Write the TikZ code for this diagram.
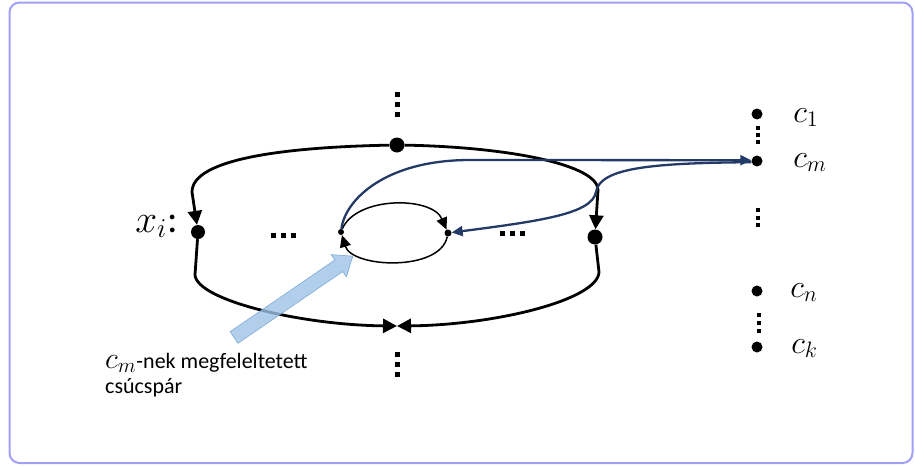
\documentclass[tikz,border=0pt]{standalone}
\usepackage{graphicx}
\usepackage{fontspec}
\setmainfont{Carlito}
\usetikzlibrary{arrows.meta}
\definecolor{framecol}{RGB}{160,160,248}
\definecolor{navy}{RGB}{36,58,102}
\definecolor{hintfill}{RGB}{157,195,230}
\definecolor{hintedge}{RGB}{130,170,215}
\begin{document}
\begin{tikzpicture}[x=1pt,y=-1pt,
  dot/.style={circle,fill=black,inner sep=0pt,minimum size=#1},
  outerline/.style={line width=2.8pt,-{Triangle[length=14pt,width=14pt]}},
  innerline/.style={line width=1.5pt,-{Triangle[length=12pt,width=11pt]}},
  navyline/.style={draw=navy,line width=2.3pt},
  navyarrow/.style={navyline,-{Triangle[length=11pt,width=10pt]}},
  mathlabel/.style={anchor=base west,inner sep=0pt,font=\fontsize{20.74}{24}\selectfont,
    scale=1.55,transform shape},
  notetext/.style={anchor=base west,inner sep=0pt,font=\fontsize{22}{25}\selectfont},
  sq/.pic={\fill (-2.5,-2.5) rectangle (2.5,2.5);},
  smallsq/.pic={\fill (-2,-2) rectangle (2,2);}
]
\useasboundingbox (0,0) rectangle (915,466);
% frame
\draw[framecol,line width=2pt,rounded corners=10pt] (9.5,2.5) rectangle (912.5,463);

% outer cycle vertices
\node[dot=15pt] (T) at (397,145) {};
\node[dot=14pt] (L) at (198,232) {};
\node[dot=15pt] (R) at (595,237) {};
\coordinate (B) at (397,326);

% inner pair of vertices
\node[dot=6pt] (IL) at (341,232) {};
\node[dot=7pt] (IR) at (448,233) {};

% clause vertices
\node[dot=11pt] (c1) at (757,114) {};
\node[dot=11pt] (cm) at (757,161) {};
\node[dot=11pt] (cn) at (757,291) {};
\node[dot=11pt] (ck) at (757,347) {};

% outer cycle edges
\draw[outerline] (T) .. controls (290,147) and (192,158) .. (192,192) -- (L);
\draw[outerline] (L) -- (195,275) .. controls (197,300) and (300,325) .. (B);
\draw[outerline] (T) .. controls (510,147) and (598,165) .. (598,190) -- (R);
\draw[outerline] (R) -- (599,272) .. controls (598,300) and (495,325) .. (B);

% inner cycle
\draw[innerline] (IL) .. controls (356,196) and (432,196) .. (IR);
\draw[innerline] (IR) .. controls (440,272) and (352,268) .. (IL);

% connections to c_m
\draw[navyarrow] (IL) .. controls (345,200) and (385,160) .. (470,160) -- (cm.172);
\draw[navyarrow] (cm.192) .. controls (650,163) and (600,168) .. (596,192)
  .. controls (592,214) and (540,221) .. (IR);

% pointer to the vertex pair
\filldraw[fill=hintfill,fill opacity=0.8,draw=hintedge,line width=0.6pt,
  shift={(234,337.5)},rotate=34.4]
  (0,-7) -- (127,-7) -- (127,-13.5) -- (144,0) -- (127,13.5) -- (127,7) -- (0,7) -- cycle;

% labels
\node[mathlabel,scale=1.22] (xi) at (135,232) {$x_i$:};
\node[mathlabel] (lc1) at (793,122) {$c_1$};
\node[mathlabel] (lcm) at (793,167) {$c_m$};
\node[mathlabel] (lcn) at (790,297) {$c_n$};
\node[mathlabel] (lck) at (791,353) {$c_k$};
\node[notetext] (note1) at (105,368) {\scalebox{1.45}{$c_m$}-nek megfeleltetett};
\node[notetext] (note2) at (105,393) {csúcspár};

% vertical ellipses
\foreach \y in {94.5,104.5,114.5} \pic at (397,\y) {sq};
\foreach \y in {354.5,364.5,374.5} \pic at (397,\y) {sq};
\foreach \y in {128,135,142} \pic at (758,\y) {smallsq};
\foreach \y in {210,217.5,225} \pic at (758,\y) {smallsq};
\foreach \y in {315,323,331} \pic at (759,\y) {smallsq};
% horizontal ellipses
\foreach \x in {273,283,293} \pic at (\x,235) {sq};
\foreach \x in {502,512,522} \pic at (\x,233) {sq};
\end{tikzpicture}
\end{document}
